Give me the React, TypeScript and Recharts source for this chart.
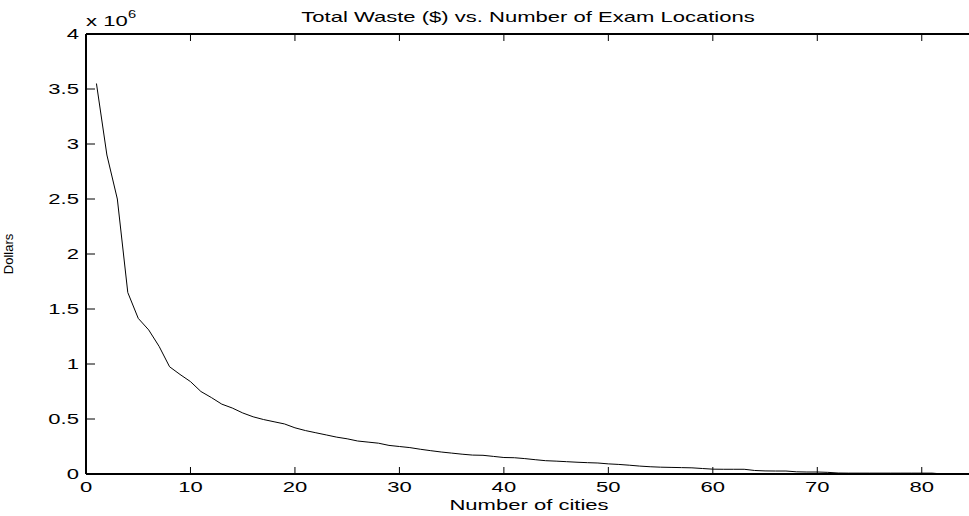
import React from 'react';
import { LineChart, Line, XAxis, YAxis, ReferenceLine } from 'recharts';

// ---- data ----
const cities: number[] = [
  1, 2, 3, 4, 5, 6, 7, 8, 9, 10,
  11, 12, 13, 14, 15, 16, 17, 18, 19, 20,
  21, 22, 23, 24, 25, 26, 27, 28, 29, 30,
  31, 32, 33, 34, 35, 36, 37, 38, 39, 40,
  41, 42, 43, 44, 45, 46, 47, 48, 49, 50,
  51, 52, 53, 54, 55, 56, 57, 58, 59, 60,
  61, 62, 63, 64, 65, 66, 67, 68, 69, 70,
  71, 72, 73, 74, 75, 76, 77, 78, 79, 80,
  81, 82,
];

// total waste in millions of dollars (axis shows x 10^6)
const wasteMillions: number[] = [
  3.55, 2.9, 2.5, 1.65, 1.415, 1.31, 1.16, 0.975, 0.905, 0.84,
  0.75, 0.695, 0.635, 0.6, 0.555, 0.52, 0.495, 0.475, 0.455, 0.42,
  0.395, 0.375, 0.355, 0.335, 0.32, 0.3, 0.29, 0.28, 0.26, 0.25,
  0.24, 0.225, 0.212, 0.2, 0.19, 0.18, 0.172, 0.17, 0.16, 0.15,
  0.148, 0.14, 0.13, 0.121, 0.117, 0.112, 0.107, 0.103, 0.1, 0.092,
  0.087, 0.08, 0.072, 0.066, 0.062, 0.06, 0.058, 0.056, 0.05, 0.044,
  0.043, 0.043, 0.043, 0.032, 0.028, 0.027, 0.027, 0.02, 0.018, 0.018,
  0.015, 0.009, 0.008, 0.008, 0.008, 0.008, 0.008, 0.008, 0.008, 0.008,
  0.008, 0.0,
];

const xTicks: number[] = [0, 10, 20, 30, 40, 50, 60, 70, 80];
const yTicks: number[] = [0, 0.5, 1, 1.5, 2, 2.5, 3, 3.5, 4];
const xDomain: [number, number] = [0, 85];
const yDomain: [number, number] = [0, 4];

const titleText = 'Total Waste ($) vs. Number of Exam Locations';
const xLabelText = 'Number of cities';
const yLabelText = 'Dollars';
const scaleBase = 'x 10';
const scaleExp = '6';

const data = cities.map((c, i) => ({ cities: c, waste: wasteMillions[i] }));

// ---- style ----
const FONT = '"Liberation Sans", Arial, Helvetica, sans-serif';
const SX = 1.47;
const FS = 15;

function BottomTick(props: any) {
  const { x, y, payload } = props;
  return (
    <g>
      <line x1={x} y1={y} x2={x} y2={y - 7} stroke="#000" strokeWidth={1} />
      <text
        transform={`translate(${x},${y + 18}) scale(${SX},1)`}
        textAnchor="middle"
        fontSize={FS}
        fontFamily={FONT}
        fill="#000"
      >
        {payload.value}
      </text>
    </g>
  );
}

function LeftTick(props: any) {
  const { x, y, payload } = props;
  return (
    <g>
      <line x1={x} y1={y} x2={x + 9} y2={y} stroke="#000" strokeWidth={1} />
      <text
        transform={`translate(${x - 7},${y + 5}) scale(${SX},1)`}
        textAnchor="end"
        fontSize={FS}
        fontFamily={FONT}
        fill="#000"
      >
        {payload.value}
      </text>
    </g>
  );
}

// inward tick on the top frame: draw only the top 7px of a vertical reference line
function TopTickShape(props: any) {
  const { x1, y1, y2 } = props;
  const top = Math.min(y1, y2);
  return <line x1={x1} y1={top} x2={x1} y2={top + 7} stroke="#000" strokeWidth={1} />;
}

export default function App() {
  return (
    <div
      style={{
        position: 'absolute',
        left: 0,
        top: 0,
        width: 969,
        height: 516,
        overflow: 'hidden',
        background: '#fff',
      }}
    >
      <LineChart
        width={969}
        height={516}
        data={data}
        margin={{ top: 34, right: -5, left: 0, bottom: 0 }}
      >
        <XAxis
          dataKey="cities"
          type="number"
          domain={xDomain}
          ticks={xTicks}
          allowDataOverflow
          height={42}
          tickSize={0}
          tickMargin={0}
          tickLine={false}
          axisLine={{ stroke: '#000', strokeWidth: 2 }}
          tick={<BottomTick />}
          interval={0}
        />
        <YAxis
          type="number"
          domain={yDomain}
          ticks={yTicks}
          allowDataOverflow
          width={86}
          tickSize={0}
          tickMargin={0}
          tickLine={false}
          axisLine={{ stroke: '#000', strokeWidth: 2 }}
          tick={<LeftTick />}
          interval={0}
        />
        <ReferenceLine y={yDomain[1]} stroke="#000" strokeWidth={2} ifOverflow="extendDomain" />
        {xTicks.map((t) => (
          <ReferenceLine key={`tt${t}`} x={t} shape={<TopTickShape />} />
        ))}
        <Line
          type="linear"
          dataKey="waste"
          stroke="#000"
          strokeWidth={1}
          dot={false}
          isAnimationActive={false}
        />
      </LineChart>
      <svg
        width={969}
        height={516}
        style={{ position: 'absolute', left: 0, top: 0, pointerEvents: 'none' }}
      >
        <text
          transform={`translate(528,22) scale(${SX},1)`}
          textAnchor="middle"
          fontSize={FS}
          fontFamily={FONT}
          fill="#000"
        >
          {titleText}
        </text>
        <text
          transform={`translate(529,510) scale(${SX},1)`}
          textAnchor="middle"
          fontSize={FS}
          fontFamily={FONT}
          fill="#000"
        >
          {xLabelText}
        </text>
        <text
          transform={`translate(13,254) rotate(-90)`}
          textAnchor="middle"
          fontSize={13}
          fontFamily={FONT}
          fill="#000"
        >
          {yLabelText}
        </text>
        <text
          transform={`translate(86,26) scale(${SX},1)`}
          textAnchor="start"
          fontSize={FS}
          fontFamily={FONT}
          fill="#000"
        >
          {scaleBase}
        </text>
        <text
          transform={`translate(128,18) scale(${SX},1)`}
          textAnchor="start"
          fontSize={10}
          fontFamily={FONT}
          fill="#000"
        >
          {scaleExp}
        </text>
      </svg>
    </div>
  );
}
